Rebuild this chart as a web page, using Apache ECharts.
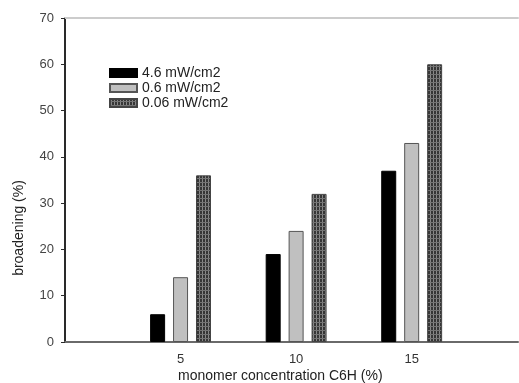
<!DOCTYPE html>
<html>
<head>
<meta charset="utf-8">
<script src="https://cdn.jsdelivr.net/npm/echarts@6/dist/echarts.min.js"></script>
<style>
html,body{margin:0;padding:0;background:#fff;}
#chart{width:519px;height:383px;}
</style>
</head>
<body>
<div id="chart"></div>
<script>
var concentrations = [5, 10, 15];
var seriesNames = ['4.6 mW/cm2', '0.6 mW/cm2', '0.06 mW/cm2'];
var high = [6, 19, 37];
var mid = [14, 24, 43];
var low = [36, 32, 60];
var yTicks = [0, 10, 20, 30, 40, 50, 60, 70];
var xLabelValues = [5, 10, 15];

function makePattern() {
  var c = document.createElement('canvas');
  c.width = 3; c.height = 4;
  var ctx = c.getContext('2d');
  ctx.fillStyle = '#363636';
  ctx.fillRect(0, 0, 3, 4);
  ctx.fillStyle = '#888888';
  ctx.fillRect(1, 0, 1, 4);
  ctx.fillStyle = '#747474';
  ctx.fillRect(0, 2, 3, 1);
  return c;
}
var pattern = { image: makePattern(), repeat: 'repeat' };

function pairs(vals) {
  return concentrations.map(function (c, i) { return [c, vals[i]]; });
}

var chart = echarts.init(document.getElementById('chart'), null, { renderer: 'canvas' });
var fontFam = 'Liberation Sans, Arial, sans-serif';
chart.setOption({
  animation: false,
  backgroundColor: '#fff',
  textStyle: { fontFamily: fontFam },
  grid: { left: 65, top: 18, width: 453, height: 324 },
  legend: {
    orient: 'vertical',
    left: 104,
    top: 61,
    icon: 'rect',
    itemWidth: 27,
    itemHeight: 8,
    itemGap: 1,
    textStyle: { fontSize: 14, color: '#222', fontFamily: fontFam },
    data: seriesNames
  },
  xAxis: [{
    type: 'value',
    min: 0,
    max: 19.6,
    interval: 5,
    splitLine: { show: false },
    axisLine: { lineStyle: { color: '#6a6a6a', width: 2 } },
    axisTick: { show: false },
    axisLabel: {
      fontSize: 13,
      color: '#333',
      margin: 11,
      showMaxLabel: false,
      formatter: function (v) { return xLabelValues.indexOf(v) >= 0 ? String(v) : ''; }
    }
  }, {
    type: 'value',
    position: 'top',
    min: 0,
    max: 19.6,
    splitLine: { show: false },
    axisLine: { show: true, lineStyle: { color: '#cccccc', width: 2 } },
    axisTick: { show: false },
    axisLabel: { show: false }
  }],
  yAxis: {
    type: 'value',
    min: yTicks[0],
    max: yTicks[yTicks.length - 1],
    interval: 10,
    splitLine: { show: false },
    axisLine: { show: true, lineStyle: { color: '#2a2a2a', width: 2 } },
    axisTick: { show: true, length: 4, lineStyle: { color: '#2a2a2a' } },
    axisLabel: { fontSize: 13, color: '#444', margin: 11 }
  },
  graphic: [{
    type: 'text',
    left: 178,
    top: 369,
    style: { text: 'monomer concentration C6H (%)', font: '14px ' + fontFam, fill: '#222' }
  }, {
    type: 'text',
    x: 12,
    y: 228,
    rotation: Math.PI / 2,
    style: { text: 'broadening (%)', font: '14px ' + fontFam, fill: '#222', align: 'center', verticalAlign: 'top' }
  }],
  series: [{
    name: seriesNames[0],
    type: 'bar',
    barWidth: 15,
    barGap: '53%',
    itemStyle: { color: '#000', borderColor: '#000', borderWidth: 1 },
    data: pairs(high)
  }, {
    name: seriesNames[1],
    type: 'bar',
    barWidth: 15,
    barGap: '53%',
    itemStyle: { color: '#c0c0c0', borderColor: '#555', borderWidth: 1 },
    data: pairs(mid)
  }, {
    name: seriesNames[2],
    type: 'bar',
    barWidth: 15,
    barGap: '53%',
    itemStyle: { color: pattern, borderColor: '#444', borderWidth: 1 },
    data: pairs(low)
  }]
});
</script>
</body>
</html>
